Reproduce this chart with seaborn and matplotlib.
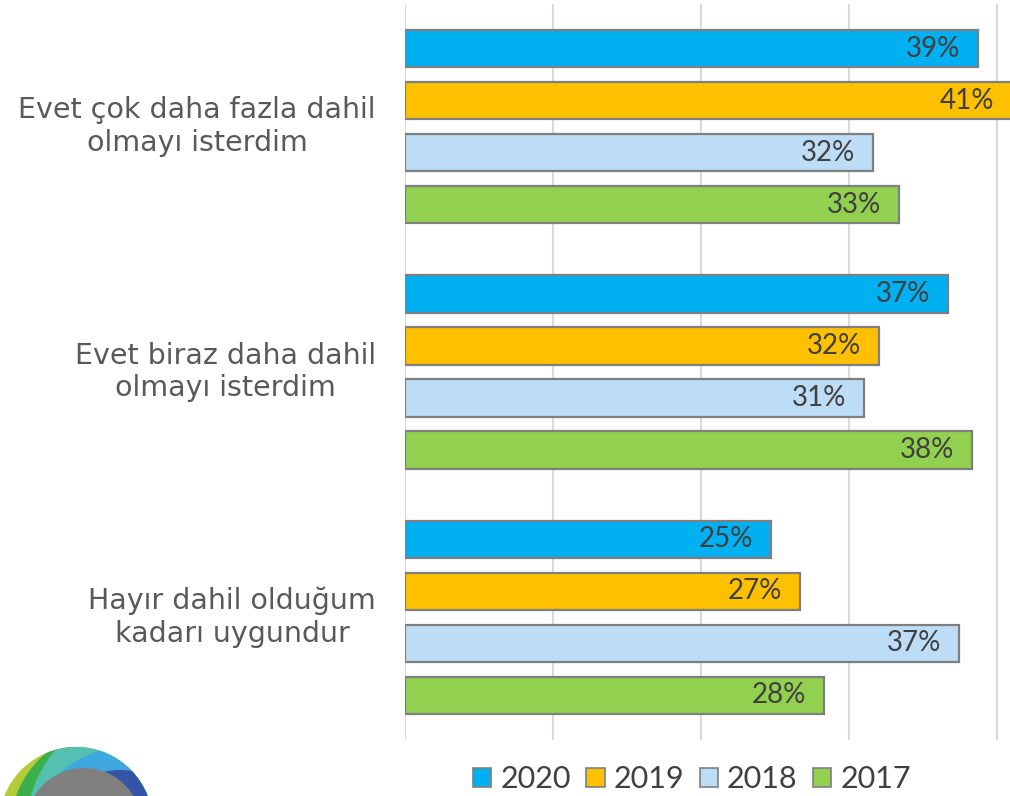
import numpy as np
import pandas as pd
import matplotlib.pyplot as plt
import matplotlib.patches as mpatches
import seaborn as sns

# ==========================================
# DATA (labels are rounded)
# ==========================================
categories = ['Evet çok daha fazla dahil\nolmayı isterdim',
              'Evet biraz daha dahil\nolmayı isterdim',
              'Hayır dahil olduğum\nkadarı uygundur']
years = ['2020', '2019', '2018', '2017']
vals_2020 = [38.7, 36.7, 24.7]
vals_2019 = [41.0, 32.0, 26.7]
vals_2018 = [31.6, 31.0, 37.4]
vals_2017 = [33.4, 38.3, 28.3]
colors = ['#00B0F0', '#FFC000', '#BDDCF6', '#92D050']

rows = []
for yr, vals in zip(years, [vals_2020, vals_2019, vals_2018, vals_2017]):
    for c, v in zip(categories, vals):
        rows.append({'cat': c, 'year': yr, 'val': v})
df = pd.DataFrame(rows)

# ==========================================
# PLOT
# ==========================================
sns.set_style("white")
plt.rcParams['font.family'] = ['DejaVu Sans']

fig = plt.figure(figsize=(10.1, 7.96), dpi=100)
ax = fig.add_axes([405 / 1010, 1 - 740 / 796, 605 / 1010, 736 / 796])

sns.barplot(data=df, y='cat', x='val', hue='year', hue_order=years, order=categories,
            orient='h', palette=colors, saturation=1, width=0.848, gap=0.28,
            edgecolor='#7F7F7F', linewidth=1.6, legend=False, ax=ax, zorder=3)

xmax = 605 / 14.8
ax.set_xlim(0, xmax)
ax.set_ylim(2.5, -0.5)
ax.set_xticks([0, 10, 20, 30, 40])
ax.set_xticklabels([])
ax.grid(axis='x', color='#D9D9D9', linewidth=1.5, zorder=0)
ax.tick_params(axis='both', length=0)
for s in ax.spines.values():
    s.set_visible(False)
ax.set_xlabel('')
ax.set_ylabel('')

ax.set_yticks(range(len(categories)))
ax.set_yticklabels(categories, fontsize=20.5, color='#595959')
for t in ax.get_yticklabels():
    t.set_multialignment('center')
    t.set_va('center')
ax.tick_params(axis='y', pad=21)

# value labels inside bar ends
for cont in ax.containers:
    for bar in cont:
        w = bar.get_width()
        yc = bar.get_y() + bar.get_height() / 2
        xt = min(w - 1.2, xmax - 0.5)
        ax.text(xt, yc, f"{w:.0f}%", ha='right', va='center',
                fontsize=20, color='#404040', family='Lato', zorder=5)

handles = [mpatches.Patch(facecolor=c, edgecolor='#7F7F7F', linewidth=1.2) for c in colors]
fig.legend(handles, years, loc='center', bbox_to_anchor=(692 / 1010, 1 - 779 / 796),
           ncol=4, frameon=False, prop={'family': 'Lato', 'size': 22},
           labelcolor='#404040', handlelength=0.6, handleheight=0.6,
           handletextpad=0.3, columnspacing=0.5)

# logo in the lower left corner (overlapping circles clipped to the outer disc)
lax = fig.add_axes([0, 0, 1, 1], zorder=-1)
lax.set_xlim(0, 1010)
lax.set_ylim(796, 0)
lax.axis('off')
outer = mpatches.Circle((76, 824), 77, facecolor='#B5CC3A', edgecolor='none')
lax.add_patch(outer)
layers = [((110, 830), 100, '#3BB04A'),
          ((150, 830), 124, '#56C0B0'),
          ((130, 850), 104, '#3FA9DF'),
          ((120, 840), 70, '#3454A8'),
          ((84, 826), 58, '#7F7F7F')]
for cxy, r, c in layers:
    p = mpatches.Circle(cxy, r, facecolor=c, edgecolor='none')
    lax.add_patch(p)
    p.set_clip_path(outer)

fig.savefig('out.png', dpi=100)
